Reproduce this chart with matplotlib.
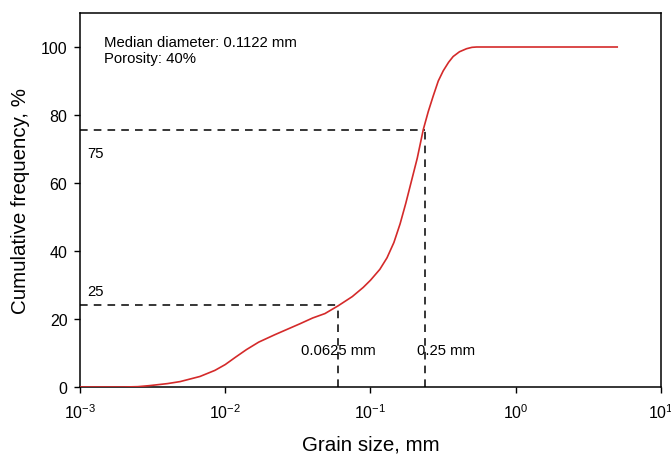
import matplotlib
matplotlib.use("Agg")
import matplotlib.pyplot as plt

plt.rcParams['font.family'] = ['Liberation Sans', 'DejaVu Sans']
plt.rcParams['mathtext.fontset'] = 'custom'
plt.rcParams['mathtext.rm'] = 'Liberation Sans'
plt.rcParams['mathtext.it'] = 'Liberation Sans'

# Cumulative grain size distribution
grain_size = [0.001, 0.002, 0.0025, 0.003, 0.004, 0.0049, 0.0067, 0.0085,
              0.01, 0.0118, 0.014, 0.017, 0.022, 0.0327, 0.04, 0.0486, 0.06,
              0.075, 0.0892, 0.1, 0.116, 0.13, 0.145, 0.16, 0.175, 0.19,
              0.21, 0.231, 0.25, 0.27, 0.293, 0.317, 0.345, 0.371, 0.41,
              0.459, 0.5, 0.538, 1.0, 2.0, 5.0]
cum_freq = [0, 0, 0.1, 0.4, 1.0, 1.6, 3.1, 4.9,
            6.6, 8.8, 11.0, 13.2, 15.4, 18.6, 20.3, 21.6, 23.9,
            26.6, 29.3, 31.4, 34.6, 38.0, 42.5, 48.0, 54.0, 60.0,
            67.3, 75.7, 81.0, 85.5, 90.0, 93.0, 95.5, 97.2, 98.6,
            99.5, 99.9, 100, 100, 100, 100]

# Reference lines: (grain size, cumulative %)
ref_sizes = [0.06, 0.236]
ref_freqs = [24.0, 75.7]
ref_pct_labels = ["25", "75"]
ref_size_labels = ["0.0625 mm", "0.25 mm"]

x_ticks = [1e-3, 1e-2, 1e-1, 1e0, 1e1]
y_ticks = [0, 20, 40, 60, 80, 100]

fig = plt.figure(figsize=(6.71, 4.56), dpi=100)
ax = fig.add_axes([0.1192, 0.1491, 0.8658, 0.8202])

ax.plot(grain_size, cum_freq, color="#d42a2a", linewidth=1.2, zorder=3)

for xs, yf in zip(ref_sizes, ref_freqs):
    ax.plot([1e-3, xs], [yf, yf], color="black", linestyle=(0, (5, 4)), linewidth=1.1)
    ax.plot([xs, xs], [0, yf], color="black", linestyle=(0, (5, 4)), linewidth=1.1)

ax.text(0.00112, 28.2, ref_pct_labels[0], fontsize=10.7, ha="left", va="center")
ax.text(0.00112, 68.9, ref_pct_labels[1], fontsize=10.7, ha="left", va="center")
ax.text(ref_sizes[0], 10.9, ref_size_labels[0], fontsize=10.7, ha="center", va="center")
ax.text(0.33, 10.9, ref_size_labels[1], fontsize=10.7, ha="center", va="center")

ax.text(0.042, 0.901, "Median diameter: 0.1122 mm\nPorosity: 40%", transform=ax.transAxes,
        fontsize=10.7, ha="left", va="center", linespacing=1.22)

ax.set_xscale("log")
ax.set_xlim(1e-3, 1e1)
ax.set_ylim(0, 110)
ax.set_xticks(x_ticks)
ax.set_yticks(y_ticks)
ax.minorticks_off()
ax.tick_params(axis="both", direction="out", length=4, width=1, labelsize=11.5, pad=5)
ax.tick_params(axis="x", pad=7)

for s in ax.spines.values():
    s.set_linewidth(1.1)

ax.set_xlabel("Grain size, mm", fontsize=14.8, labelpad=10)
ax.set_ylabel("Cumulative frequency, %", fontsize=14.8, labelpad=8)

fig.savefig("out.png", dpi=100)
